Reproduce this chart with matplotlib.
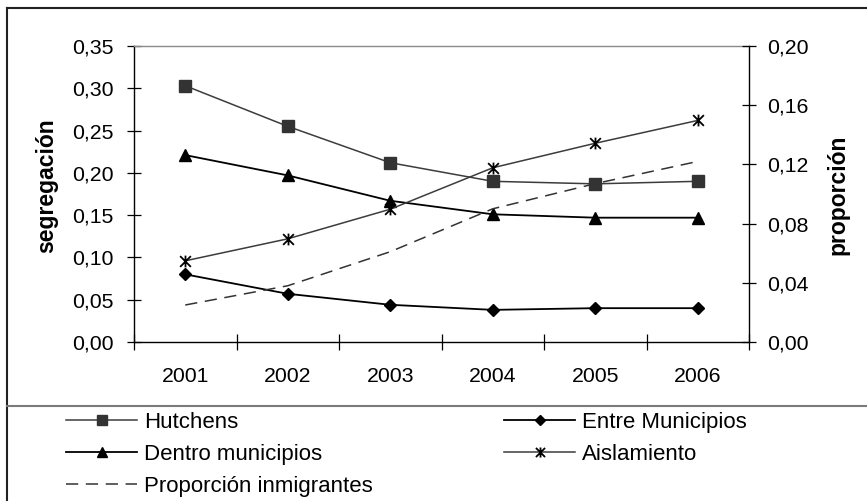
import numpy as np
import matplotlib
matplotlib.use("Agg")
import matplotlib.pyplot as plt
from matplotlib.path import Path
from matplotlib.lines import Line2D
from matplotlib.ticker import FuncFormatter

plt.rcParams['font.family'] = ['Liberation Sans', 'DejaVu Sans']

# Data
years = ["2001", "2002", "2003", "2004", "2005", "2006"]
hutchens = [0.303, 0.255, 0.212, 0.190, 0.187, 0.190]
entre_municipios = [0.080, 0.057, 0.044, 0.038, 0.040, 0.040]
dentro_municipios = [0.221, 0.197, 0.167, 0.151, 0.147, 0.147]
aislamiento = [0.096, 0.122, 0.157, 0.206, 0.235, 0.262]
proporcion_inmigrantes = [0.025, 0.038, 0.061, 0.090, 0.107, 0.122]

W, H = 867, 501
fig = plt.figure(figsize=(W / 100, H / 100), dpi=100)
fig.patch.set_facecolor("white")

ax = fig.add_axes([134 / W, 1 - 342 / H, 615 / W, 296 / H])
ax2 = ax.twinx()

x = np.arange(len(years))

# Asterisk marker: an X crossed by a vertical bar
ast = Path([(-1, -1), (1, 1), (-1, 1), (1, -1), (0, -1.1), (0, 1.1)],
           [Path.MOVETO, Path.LINETO, Path.MOVETO, Path.LINETO, Path.MOVETO, Path.LINETO])

l_h, = ax.plot(x, hutchens, color="#3c3c3c", lw=1.1, marker="s", ms=8,
               mfc="#333333", mec="#333333", label="Hutchens")
l_d, = ax.plot(x, dentro_municipios, color="black", lw=1.3, marker="^", ms=9,
               mfc="black", mec="black", label="Dentro municipios")
l_e, = ax.plot(x, entre_municipios, color="black", lw=1.3, marker="D", ms=6,
               mfc="black", mec="black", label="Entre Municipios")
l_a, = ax.plot(x, aislamiento, color="#3c3c3c", lw=1.1, marker=ast, ms=8.5,
               mfc="none", mec="black", mew=1.3, label="Aislamiento")
l_p, = ax2.plot(x, proporcion_inmigrantes, color="#333333", lw=1.1,
                dashes=(8, 5), label="Proporción inmigrantes")

ax.set_xlim(-0.5, 5.5)
ax.set_ylim(0, 0.35)
ax2.set_ylim(0, 0.20)

comma = lambda nd: FuncFormatter(lambda v, p: f"{v:.{nd}f}".replace(".", ","))
ax.set_yticks(np.arange(0, 0.351, 0.05))
ax.yaxis.set_major_formatter(comma(2))
ax2.set_yticks(np.arange(0, 0.201, 0.04))
ax2.yaxis.set_major_formatter(comma(2))

# category boundaries get the tick marks, centres get the labels
ax.set_xticks(np.arange(-0.5, 5.6, 1.0))
ax.set_xticklabels([])
ax.set_xticks(x, labels=years, minor=True)

fs = 15.3
ax.tick_params(axis="y", direction="inout", length=10, width=0.9, pad=10,
               labelsize=fs, colors="black")
ax2.tick_params(axis="y", direction="inout", length=10, width=0.9, pad=8,
                labelsize=fs, colors="black")
ax.tick_params(axis="x", which="major", direction="inout", length=11, width=0.9)
ax.tick_params(axis="x", which="minor", length=0, pad=18, labelsize=fs)

for s in ("left", "bottom"):
    ax.spines[s].set_color("black")
    ax.spines[s].set_linewidth(1.0)
ax.spines["top"].set_color("#8a8a8a")
ax.spines["top"].set_linewidth(1.0)
ax.spines["right"].set_visible(False)
for s in ("left", "top", "bottom"):
    ax2.spines[s].set_visible(False)
ax2.spines["right"].set_color("black")
ax2.spines["right"].set_linewidth(1.0)

fig.text(47 / W, 1 - 186 / H, "segregación", rotation=90, ha="center",
         va="center", fontsize=16.5, fontweight="bold")
fig.text(838 / W, 1 - 195 / H, "proporción", rotation=90, ha="center",
         va="center", fontsize=16.5, fontweight="bold")

# Legend in two columns
leg_kw = dict(loc="upper left", frameon=False, borderpad=0, borderaxespad=0,
              handlelength=3.2, handletextpad=0.3, labelspacing=0.49,
              fontsize=16.0, numpoints=1, markerscale=0.85)
leg1 = fig.legend(handles=[l_h, l_d, l_p], bbox_to_anchor=(66 / W, 1 - 412 / H), **leg_kw)
leg2 = fig.legend(handles=[l_e, l_a], bbox_to_anchor=(504 / W, 1 - 412 / H), **leg_kw)

# Outer frame and separator between chart and legend
fig.add_artist(Line2D([7 / W, 7 / W], [0, 1 - 8 / H], transform=fig.transFigure,
                      color="#222222", lw=1.5))
fig.add_artist(Line2D([7 / W, 1], [1 - 8 / H, 1 - 8 / H], transform=fig.transFigure,
                      color="#222222", lw=1.5))
fig.add_artist(Line2D([7 / W, 1], [1 - 405.5 / H, 1 - 405.5 / H], transform=fig.transFigure,
                      color="#7a7a7a", lw=1.5))

fig.savefig("out.png", dpi=100, facecolor="white")
